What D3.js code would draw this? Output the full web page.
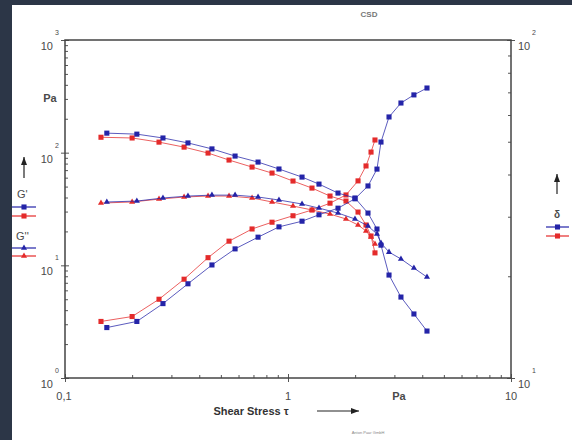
<!DOCTYPE html>
<html>
<head>
<meta charset="utf-8">
<script src="https://cdn.jsdelivr.net/npm/d3@7"></script>
<style>
  body { margin: 0; background: #fff; }
  text { font-family: "Liberation Sans", Arial, sans-serif; }
</style>
</head>
<body>
<div id="chart"></div>
<script>
// blue measurement: shear stress (Pa), G' (Pa), G'' (Pa), delta (deg)
const blueStress = [0.154, 0.210, 0.275, 0.356, 0.456, 0.579, 0.734, 0.911, 1.156, 1.377, 1.676, 1.997, 2.284, 2.506, 2.612, 2.838, 3.21, 3.67, 4.20];
const blueGp = [149, 146, 135, 122, 108, 93.3, 82.5, 71.6, 60.7, 52.6, 43.8, 39.6, 29.1, 21.0, 15.1, 8.2, 5.23, 3.7, 2.61];
const blueGpp = [36.5, 37.2, 39.6, 41.2, 42.0, 42.0, 40.4, 38.0, 35.0, 32.2, 29.1, 25.8, 22.3, 19.0, 15.8, 13.1, 11.4, 9.46, 7.87];
const blueDelta = [14.1, 14.7, 16.6, 19.0, 21.6, 24.1, 26.1, 28.0, 29.1, 30.4, 31.8, 33.9, 37.0, 41.5, 49.9, 59.2, 65.1, 68.8, 72.1];

// red measurement
const redStress = [0.145, 0.200, 0.264, 0.342, 0.438, 0.544, 0.690, 0.848, 1.053, 1.281, 1.543, 1.820, 2.061, 2.238, 2.357, 2.455];
const redGp = [137, 135, 124, 112, 99.2, 86.0, 74.5, 65.9, 56.0, 48.5, 41.2, 37.2, 29.7, 22.8, 18.2, 12.9];
const redGpp = [35.7, 36.5, 38.7, 40.4, 41.2, 41.2, 39.6, 36.5, 33.6, 31.0, 28.5, 25.8, 22.8, 20.2, 17.8, 15.5];
const redDelta = [14.7, 15.2, 17.1, 19.6, 22.7, 25.4, 27.6, 28.9, 30.2, 31.4, 32.9, 34.8, 38.3, 42.4, 46.6, 50.6];

const xTicks = [0.1, 1, 10];
const xTickLabels = ['0,1', '1', '10'];
const leftExp = [0, 1, 2, 3];
const rightExp = [1, 2];

const blue = '#2424a8';
const red = '#e42b2b';
const ink = '#4a4a4a';

const W = 572, H = 440;
const x0 = 65, x1 = 511, yTop = 40, yBot = 378;

const svg = d3.select('#chart').append('svg')
  .attr('width', W).attr('height', H);

// dark frame of the screenshot
svg.append('rect').attr('width', W).attr('height', 5).attr('fill', '#2c3647');
svg.append('rect').attr('width', 12).attr('height', H).attr('fill', '#2c3647');

const x = d3.scaleLog().domain([0.1, 10]).range([x0, x1]);
const yL = d3.scaleLog().domain([1, 1000]).range([yBot, yTop]);
const yR = d3.scaleLog().domain([10, 100]).range([yBot, yTop]);

const minors = (lo, hi) => {
  const out = [];
  for (let p = lo; p < hi; p *= 10)
    for (let k = 2; k < 10; k++) out.push(p * k);
  return out;
};

const styleAxis = g => {
  g.select('.domain').remove();
  g.selectAll('line').attr('stroke', '#555').attr('stroke-width', 1);
};

// minor ticks, inside
svg.append('g').attr('transform', `translate(${x0},0)`)
  .call(d3.axisRight(yL).tickValues(minors(1, 1000)).tickSize(3).tickFormat(''))
  .call(styleAxis);
svg.append('g').attr('transform', `translate(${x1},0)`)
  .call(d3.axisLeft(yR).tickValues(minors(10, 100)).tickSize(3).tickFormat(''))
  .call(styleAxis);
svg.append('g').attr('transform', `translate(0,${yBot})`)
  .call(d3.axisTop(x).tickValues(minors(0.1, 10)).tickSize(3).tickFormat(''))
  .call(styleAxis);

// major ticks, crossing
const leftMajors = leftExp.map(e => Math.pow(10, e));
const rightMajors = rightExp.map(e => Math.pow(10, e));
[d3.axisLeft, d3.axisRight].forEach(ax => {
  svg.append('g').attr('transform', `translate(${x0},0)`)
    .call(ax(yL).tickValues(leftMajors).tickSize(4).tickFormat('')).call(styleAxis);
  svg.append('g').attr('transform', `translate(${x1},0)`)
    .call(ax(yR).tickValues(rightMajors).tickSize(4).tickFormat('')).call(styleAxis);
});
[d3.axisTop, d3.axisBottom].forEach(ax => {
  svg.append('g').attr('transform', `translate(0,${yBot})`)
    .call(ax(x).tickValues(xTicks).tickSize(4).tickFormat('')).call(styleAxis);
});

// plot frame
svg.append('rect')
  .attr('x', x0).attr('y', yTop)
  .attr('width', x1 - x0).attr('height', yBot - yTop)
  .attr('fill', 'none').attr('stroke', '#444').attr('stroke-width', 1.5);

// power-of-ten labels
const powLabel = (px, py, exp, anchorEnd) => {
  const t = svg.append('text').attr('fill', ink).attr('font-size', 11);
  if (anchorEnd) {
    t.attr('x', px - 12).attr('y', py + 10).attr('text-anchor', 'end').text('10');
    svg.append('text').attr('x', px - 10).attr('y', py - 5)
      .attr('fill', ink).attr('font-size', 7).text(exp);
  } else {
    t.attr('x', px + 7).attr('y', py + 10).text('10');
    svg.append('text').attr('x', px + 21).attr('y', py - 5)
      .attr('fill', ink).attr('font-size', 7).text(exp);
  }
};
leftExp.forEach(e => powLabel(x0, yL(Math.pow(10, e)), e, true));
rightExp.forEach(e => powLabel(x1, yR(Math.pow(10, e)), e, false));

xTicks.forEach((v, i) => {
  svg.append('text').attr('x', x(v) - (i === 0 ? 1 : 0)).attr('y', 400)
    .attr('text-anchor', 'middle').attr('fill', ink).attr('font-size', 11)
    .text(xTickLabels[i]);
});

// unit and axis titles
svg.append('text').attr('x', 50).attr('y', 102).attr('text-anchor', 'middle')
  .attr('fill', ink).attr('font-size', 11).attr('font-weight', 'bold').text('Pa');
svg.append('text').attr('x', 399).attr('y', 400).attr('text-anchor', 'middle')
  .attr('fill', ink).attr('font-size', 11).attr('font-weight', 'bold').text('Pa');
svg.append('text').attr('x', 251).attr('y', 415).attr('text-anchor', 'middle')
  .attr('fill', '#333').attr('font-size', 11).attr('font-weight', 'bold').text('Shear Stress τ');
svg.append('text').attr('x', 369).attr('y', 17).attr('text-anchor', 'middle')
  .attr('fill', '#777').attr('font-size', 8).attr('font-weight', 'bold').text('CSD');
svg.append('text').attr('x', 368).attr('y', 434).attr('text-anchor', 'middle')
  .attr('fill', '#888').attr('font-size', 4).text('Anton Paar GmbH');

// arrows
const arrow = (xa, ya, xb, yb) => {
  svg.append('line').attr('x1', xa).attr('y1', ya).attr('x2', xb).attr('y2', yb)
    .attr('stroke', '#222').attr('stroke-width', 1.2);
  const ang = Math.atan2(yb - ya, xb - xa) * 180 / Math.PI;
  svg.append('path').attr('d', 'M0,0L-8,-3L-8,3Z').attr('fill', '#222')
    .attr('transform', `translate(${xb},${yb}) rotate(${ang})`);
};
arrow(317, 411, 359, 411);
arrow(24, 178, 24, 157);
arrow(557, 194, 557, 174);

// series
const lineFor = yScale => d3.line().x(d => x(d[0])).y(d => yScale(d[1]));
const square = d3.symbol(d3.symbolSquare, 26);
const tri = d3.symbol(d3.symbolTriangle, 16);

const drawSeries = (stress, vals, yScale, color, sym) => {
  const pts = stress.map((s, i) => [s, vals[i]]);
  svg.append('path').datum(pts).attr('d', lineFor(yScale))
    .attr('fill', 'none').attr('stroke', color).attr('stroke-width', 1).attr('opacity', 0.75);
  svg.append('g').selectAll('path').data(pts).enter().append('path')
    .attr('d', sym)
    .attr('transform', d => `translate(${x(d[0])},${yScale(d[1])})`)
    .attr('fill', color);
};

drawSeries(redStress, redGp, yL, red, square);
drawSeries(redStress, redGpp, yL, red, tri);
drawSeries(redStress, redDelta, yR, red, square);
drawSeries(blueStress, blueGp, yL, blue, square);
drawSeries(blueStress, blueGpp, yL, blue, tri);
drawSeries(blueStress, blueDelta, yR, blue, square);

// legends
const legendRow = (xa, xb, y, color, sym) => {
  svg.append('line').attr('x1', xa).attr('x2', xb).attr('y1', y).attr('y2', y)
    .attr('stroke', color).attr('stroke-width', 1.2);
  svg.append('path').attr('d', sym).attr('fill', color)
    .attr('transform', `translate(${(xa + xb) / 2},${y})`);
};
svg.append('text').attr('x', 17).attr('y', 198).attr('fill', ink)
  .attr('font-size', 11).text("G'");
legendRow(12, 36, 207, blue, square);
legendRow(12, 36, 216, red, square);
svg.append('text').attr('x', 16).attr('y', 240).attr('fill', ink)
  .attr('font-size', 11).text("G''");
legendRow(12, 36, 248, blue, tri);
legendRow(12, 36, 256, red, tri);

svg.append('text').attr('x', 557).attr('y', 218).attr('text-anchor', 'middle')
  .attr('fill', ink).attr('font-size', 10).attr('font-weight', 'bold').text('δ');
legendRow(546, 569, 227, blue, square);
legendRow(546, 569, 236, red, square);
</script>
</body>
</html>
